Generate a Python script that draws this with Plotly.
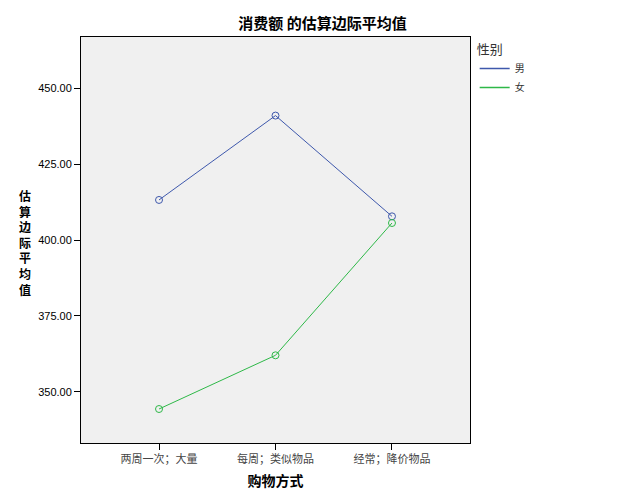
import plotly.graph_objects as go

categories = ["两周一次；大量", "每周；类似物品", "经常；降价物品"]
male = [413.2, 441.0, 407.8]
female = [344.3, 362.0, 405.6]
y_ticks = [350, 375, 400, 425, 450]
y_title = "估算边际平均值"

font_cjk = "Noto Sans CJK SC"
blue = "#3E58AC"
green = "#2EB848"

fig = go.Figure()

for name, vals, col in [("男", male, blue), ("女", female, green)]:
    fig.add_trace(go.Scatter(
        x=categories, y=vals, mode="lines+markers", name=name,
        line=dict(color=col, width=1),
        marker=dict(symbol="circle-open", size=7, color=col, line=dict(width=1)),
        showlegend=False,
    ))
    # legend entry: line only
    fig.add_trace(go.Scatter(
        x=[None], y=[None], mode="lines", name=name,
        line=dict(color=col, width=1.5),
    ))

# page body has an 8px margin, so margins are shifted by 8
fig.update_layout(
    width=629, height=504,
    margin=dict(l=73, r=167, t=29, b=69),
    paper_bgcolor="white",
    plot_bgcolor="#F0F0F0",
    title=dict(text="<b>消费额 的估算边际平均值</b>", x=0.5, xanchor="center",
               y=0.968, yanchor="middle",
               font=dict(family=font_cjk, size=15, color="black")),
    legend=dict(x=1.012, y=1.0, xanchor="left", yanchor="top",
                title=dict(text="性别", font=dict(family=font_cjk, size=13, color="#333")),
                font=dict(family=font_cjk, size=10, color="#333"),
                itemwidth=30, tracegroupgap=0, bgcolor="rgba(0,0,0,0)"),
)

fig.update_xaxes(
    type="category", range=[-0.67, 2.67],
    showgrid=False, zeroline=False,
    showline=True, linecolor="black", linewidth=1, mirror=True,
    ticks="outside", ticklen=6, tickcolor="black",
    tickfont=dict(family=font_cjk, size=11, color="#444"),
    title=dict(text="<b>购物方式</b>", font=dict(family=font_cjk, size=14, color="black"), standoff=10),
)

fig.update_yaxes(
    range=[333.1, 466.9],
    tickvals=y_ticks, ticktext=[f"{v:.2f}" for v in y_ticks],
    showgrid=False, zeroline=False,
    showline=True, linecolor="black", linewidth=1, mirror=True,
    ticks="outside", ticklen=6, tickcolor="black",
    tickfont=dict(family="Arial, Liberation Sans", size=11, color="black"),
)

# vertical stacked y title
fig.add_annotation(
    text="<b>" + "<br>".join(y_title) + "</b>", xref="paper", yref="paper",
    x=-0.145, y=0.495, xanchor="center", yanchor="middle", showarrow=False,
    align="center", font=dict(family=font_cjk, size=12, color="black"),
)

fig.write_html("out.html")
